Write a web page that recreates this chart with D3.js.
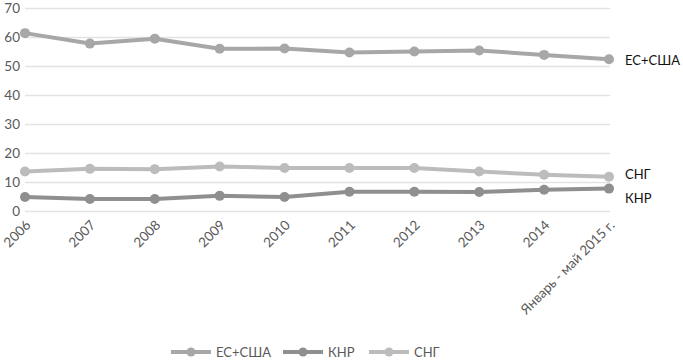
<!DOCTYPE html>
<html>
<head>
<meta charset="utf-8">
<script src="https://cdn.jsdelivr.net/npm/d3@7"></script>
<style>
body { margin: 0; background: #fff; }
text { font-family: Lato, "Open Sans", sans-serif; }
</style>
</head>
<body>
<div id="chart"></div>
<script>
// Data
var years = ['2006','2007','2008','2009','2010','2011','2012','2013','2014','Январь - май 2015 г.'];
var euUsa = [61.5, 57.9, 59.6, 56.1, 56.2, 54.8, 55.2, 55.5, 54.0, 52.5];
var china = [5.0, 4.3, 4.3, 5.4, 5.0, 6.8, 6.8, 6.7, 7.5, 7.9];
var cis = [13.8, 14.7, 14.6, 15.5, 15.0, 15.0, 15.0, 13.8, 12.7, 12.0];
var yTicks = [0, 10, 20, 30, 40, 50, 60, 70];

var seriesNames = ['ЕС+США', 'КНР', 'СНГ'];
var seriesVals = [euUsa, china, cis];
var colors = ['#a7a7a7', '#8f8f8f', '#bcbcbc'];

var width = 683, height = 360;
var svg = d3.select('#chart').append('svg')
    .attr('width', width)
    .attr('height', height);

var x = d3.scalePoint().domain(years).range([25, 609]);
var y = d3.scaleLinear().domain([0, 70]).range([211.5, 8.5]);

// gridlines
svg.append('g').selectAll('line')
    .data(yTicks)
    .enter().append('line')
    .attr('x1', 25).attr('x2', 610)
    .attr('y1', function(d) { return y(d); })
    .attr('y2', function(d) { return y(d); })
    .style('stroke', '#e3e3e3')
    .style('stroke-width', 1.3);

// y axis labels
var yAxis = svg.append('g')
    .attr('transform', 'translate(20,0)')
    .call(d3.axisLeft(y).tickValues(yTicks).tickSize(0).tickPadding(0));
yAxis.select('.domain').remove();
yAxis.selectAll('text')
    .style('font-size', '13.5px')
    .style('fill', '#595959');

// x axis labels
var xAxis = svg.append('g')
    .attr('transform', 'translate(0,213)')
    .call(d3.axisBottom(x).tickSize(0).tickPadding(0));
xAxis.select('.domain').remove();
xAxis.selectAll('text')
    .style('font-size', '13.5px')
    .style('fill', '#595959')
    .style('text-anchor', 'end')
    .attr('x', 0).attr('y', 0)
    .attr('dx', 0).attr('dy', 0)
    .attr('transform', 'translate(6,13) rotate(-45)');

var line = d3.line()
    .x(function(d, i) { return x(years[i]); })
    .y(function(d) { return y(d); });

// draw lines (order: ЕС+США, КНР, СНГ)
for (var s = 0; s < seriesVals.length; s++) {
    var g = svg.append('g');
    g.append('path')
        .datum(seriesVals[s])
        .attr('d', line)
        .style('fill', 'none')
        .style('stroke', colors[s])
        .style('stroke-width', 4)
        .style('stroke-linejoin', 'round');
    g.selectAll('circle')
        .data(seriesVals[s])
        .enter().append('circle')
        .attr('cx', function(d, i) { return x(years[i]); })
        .attr('cy', function(d) { return y(d); })
        .attr('r', 5)
        .style('fill', colors[s]);
}

// end labels
var labelY = [y(euUsa[9]) + 1, y(china[9]) + 10, y(cis[9]) - 2];
for (var l = 0; l < seriesNames.length; l++) {
    svg.append('text')
        .attr('x', 625)
        .attr('y', labelY[l])
        .attr('dy', '0.35em')
        .style('font-size', '13px')
        .style('fill', '#111')
        .text(seriesNames[l]);
}

// legend
var legendX = [171, 283, 369];
for (var k = 0; k < seriesNames.length; k++) {
    var lg = svg.append('g').attr('transform', 'translate(' + legendX[k] + ',352)');
    lg.append('line')
        .attr('x1', 0).attr('x2', 40)
        .style('stroke', colors[k])
        .style('stroke-width', 4);
    lg.append('circle')
        .attr('cx', 20).attr('r', 4.5)
        .style('fill', colors[k]);
    lg.append('text')
        .attr('x', 45)
        .attr('dy', '0.35em')
        .style('font-size', '13px')
        .style('fill', '#595959')
        .text(seriesNames[k]);
}
</script>
</body>
</html>
